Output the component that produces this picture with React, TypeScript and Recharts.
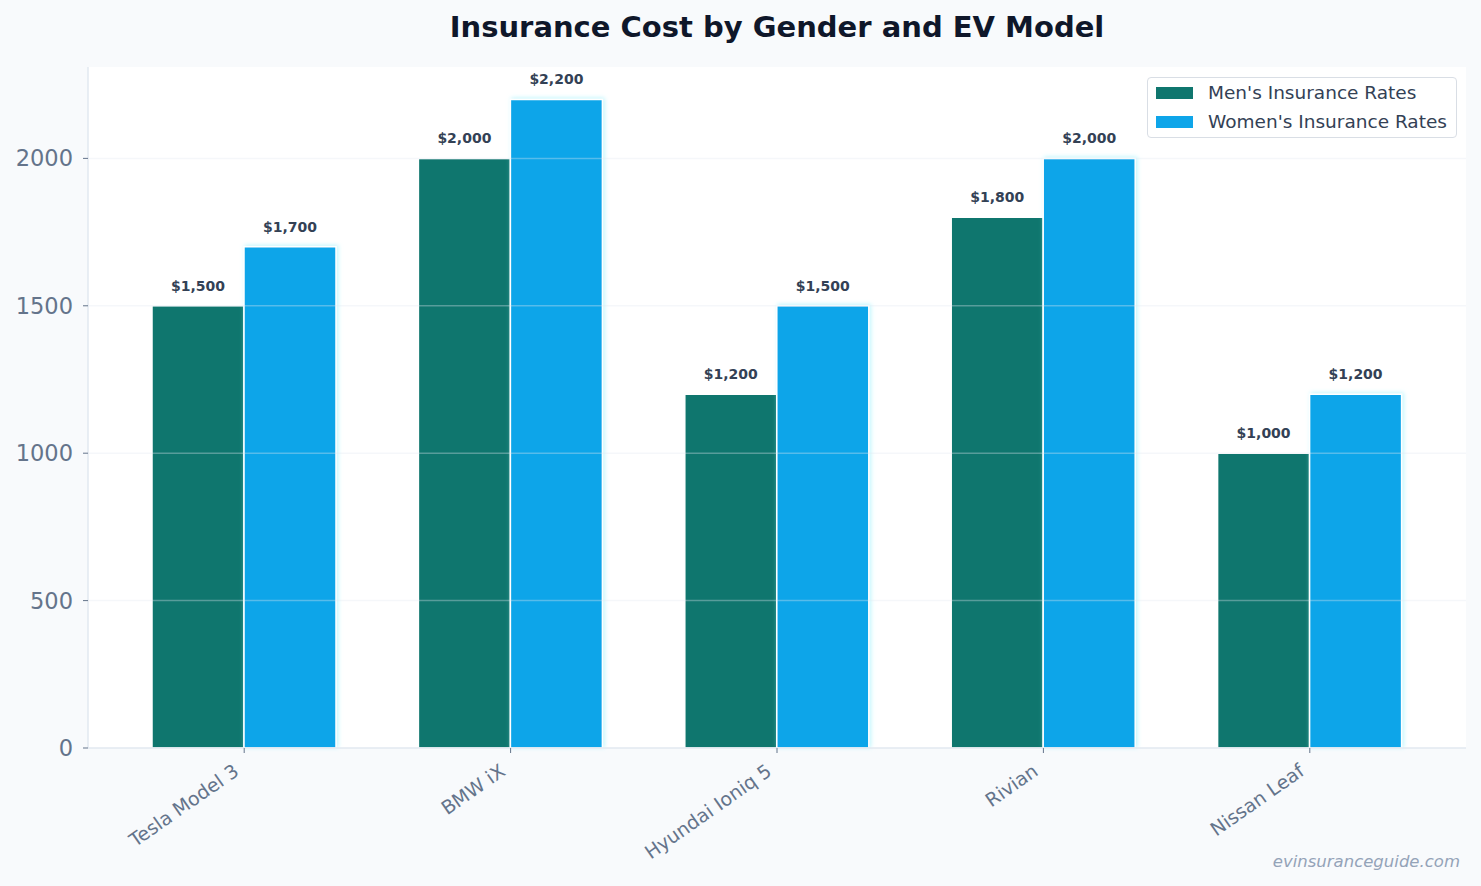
import { BarChart, Bar, XAxis, YAxis, CartesianGrid, ReferenceLine, LabelList, Legend } from "recharts";

const models = ["Tesla Model 3", "BMW iX", "Hyundai Ioniq 5", "Rivian", "Nissan Leaf"];
const menRates = [1500, 2000, 1200, 1800, 1000];
const womenRates = [1700, 2200, 1500, 2000, 1200];
const yTicks = [0, 500, 1000, 1500, 2000];

const data = models.map((model, i) => ({
  model,
  men: menRates[i],
  women: womenRates[i],
}));

const FONT = "'DejaVu Sans', sans-serif";
const money = (v: any) => "$" + Number(v).toLocaleString("en-US");

const XTick = ({ x, y, payload }: any) => (
  <g transform={`translate(${x - 4},${y + 21})`}>
    <text
      x={0}
      y={0}
      textAnchor="end"
      transform="rotate(-35)"
      fontFamily={FONT}
      fontSize={19}
      fill="#64748b"
    >
      {payload.value}
    </text>
  </g>
);

const renderLegend = (props: any) => (
  <div
    style={{
      background: "#fff",
      border: "1.5px solid #d9dee5",
      borderRadius: 4,
      width: 310,
      height: 61,
      boxSizing: "border-box",
      padding: "0 0 0 8px",
      fontFamily: FONT,
    }}
  >
    {props.payload.map((p: any) => (
      <div key={p.value} style={{ display: "flex", alignItems: "center", height: 29 }}>
        <span style={{ width: 37, height: 12, background: p.color, display: "inline-block" }} />
        <span style={{ marginLeft: 15, fontSize: 18.5, color: "#334155" }}>{p.value}</span>
      </div>
    ))}
  </div>
);

export default function App() {
  return (
    <div
      style={{
        position: "absolute",
        left: 0,
        top: 0,
        width: 1481,
        height: 886,
        background: "#f8fafc",
        fontFamily: FONT,
      }}
    >
      <svg width={0} height={0} style={{ position: "absolute" }}>
        <defs>
          <filter id="glow" x="-10%" y="-10%" width="120%" height="120%">
            <feDropShadow dx={1.5} dy={-1} stdDeviation={2} floodColor="#a5f3fc" floodOpacity={0.7} />
          </filter>
        </defs>
      </svg>
      <div
        style={{
          position: "absolute",
          left: 88,
          width: 1378,
          top: 11,
          textAlign: "center",
          fontSize: 29,
          lineHeight: "32px",
          fontWeight: "bold",
          color: "#0f172a",
        }}
      >
        Insurance Cost by Gender and EV Model
      </div>
      <BarChart
        width={1481}
        height={886}
        data={data}
        margin={{ top: 67, right: 15, bottom: 108, left: 8 }}
        barGap={0}
      >
        <CartesianGrid fill="#ffffff" horizontal={false} vertical={false} />
        <XAxis
          dataKey="model"
          height={30}
          padding={{ left: 23, right: 23 }}
          tick={<XTick />}
          tickSize={5}
          tickMargin={0}
          interval={0}
          axisLine={{ stroke: "#e2e8f0", strokeWidth: 1.5 }}
          tickLine={{ stroke: "#64748b" }}
        />
        <YAxis
          width={80}
          domain={[0, 2310]}
          ticks={yTicks}
          tickSize={5}
          tickMargin={10}
          axisLine={{ stroke: "#e2e8f0", strokeWidth: 1.5 }}
          tickLine={{ stroke: "#64748b" }}
          tick={{ fontFamily: FONT, fontSize: 22.5, fill: "#64748b" }}
        />
        <Legend
          layout="horizontal"
          verticalAlign="middle"
          align="center"
          content={renderLegend}
          wrapperStyle={{ position: "absolute", top: 77, left: 1147, width: 310, height: 61 }}
        />
        <Bar
          dataKey="men"
          name="Men's Insurance Rates"
          fill="#0f766e"
          stroke="#ffffff"
          strokeWidth={1.5}
          barSize={92}
          isAnimationActive={false}
        >
          <LabelList
            dataKey="men"
            position="top"
            offset={15}
            formatter={money}
            style={{ fontFamily: FONT, fontSize: 14, fontWeight: "bold", fill: "#334155" }}
          />
        </Bar>
        <Bar
          dataKey="women"
          name="Women's Insurance Rates"
          fill="#0ea5e9"
          stroke="#ffffff"
          strokeWidth={1.5}
          barSize={92}
          filter="url(#glow)"
          isAnimationActive={false}
        >
          <LabelList
            dataKey="women"
            position="top"
            offset={15}
            formatter={money}
            style={{ fontFamily: FONT, fontSize: 14, fontWeight: "bold", fill: "#334155" }}
          />
        </Bar>
        {yTicks
          .filter((t) => t > 0)
          .map((t) => (
            <ReferenceLine key={t} y={t} stroke="#e2e8f0" strokeOpacity={0.35} strokeWidth={1.5} />
          ))}
      </BarChart>
      <div
        style={{
          position: "absolute",
          right: 21,
          top: 852,
          fontSize: 16.5,
          lineHeight: "20px",
          fontStyle: "italic",
          color: "#94a3b8",
        }}
      >
        evinsuranceguide.com
      </div>
    </div>
  );
}
